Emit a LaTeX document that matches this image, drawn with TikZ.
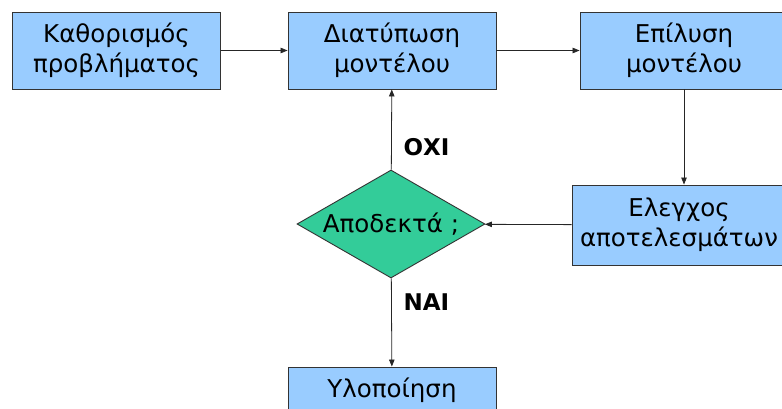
\documentclass[tikz,border=0pt]{standalone}
\usepackage{fontspec}
\setmainfont{DejaVu Sans}
\usetikzlibrary{arrows.meta, positioning, shapes.geometric}

\definecolor{boxblue}{HTML}{99CCFF}
\definecolor{decgreen}{HTML}{33CC99}

\begin{document}
\begin{tikzpicture}[
    x=1pt, y=-1pt,
    every node/.style={font=\fontsize{24.5}{30}\selectfont},
    box/.style={rectangle, draw=black!80, line width=0.9pt, fill=boxblue, minimum width=208pt, minimum height=77pt, align=center, inner sep=0pt},
    decision/.style={diamond, draw=black!80, line width=0.9pt, fill=decgreen, minimum width=188pt, minimum height=108pt, inner sep=0pt},
    arrow/.style={-{Triangle[length=7pt, width=5.5pt]}, black!85, line width=0.8pt},
    answer/.style={font=\fontsize{23}{24}\selectfont\bfseries}
]
\useasboundingbox (0,0) rectangle (782,409);

% ============ TOP ROW ============
\node[box] (define) at (116.5, 50.5) {Καθορισμός\\προβλήματος};
\node[box] (model) at (392, 50.5) {Διατύπωση\\μοντέλου};
\node[box] (solve) at (684, 50.5) {Επίλυση\\μοντέλου};

% ============ CHECK AND DECISION ============
\node[box, minimum width=214pt, minimum height=80pt] (check) at (679, 225) {Ελεγχος\\αποτελεσμάτων};
\node[decision, label={center:Αποδεκτά ;}] (ok) at (391, 224) {};

% ============ OUTPUT ============
\node[box, minimum height=46pt] (impl) at (392, 390) {Υλοποίηση};

% ============ ARROWS ============
\draw[arrow] (define) -- (model);
\draw[arrow] (model) -- (solve);
\draw[arrow] (solve) -- (solve |- check.north);
\draw[arrow] (check) -- (ok);
\draw[arrow] (ok) -- (model);
\draw[arrow] (ok) -- (impl);

% answers
\node[answer, anchor=west] (no) at (400, 147) {ΟΧΙ};
\node[answer, anchor=west] (yes) at (400, 302) {ΝΑΙ};

\end{tikzpicture}
\end{document}
